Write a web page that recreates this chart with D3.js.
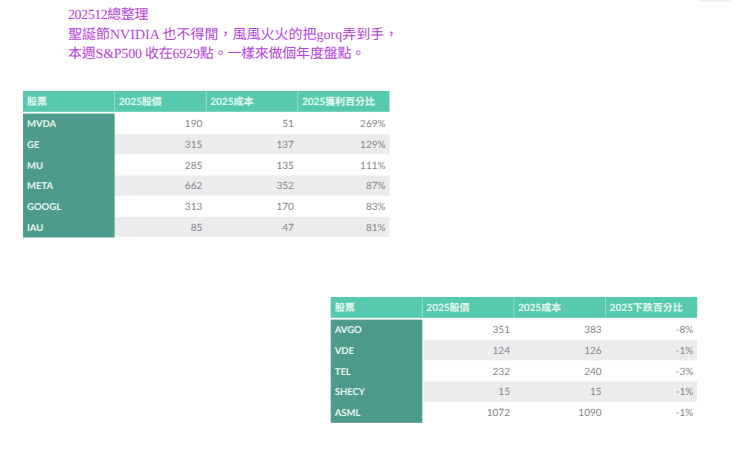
<!DOCTYPE html>
<html>
<head>
<meta charset="utf-8">
<script src="https://cdn.jsdelivr.net/npm/d3@7"></script>
<style>
  html, body { margin: 0; padding: 0; background: #fff; }
  svg { display: block; }
  text { font-family: Lato, "Noto Sans CJK TC", sans-serif; text-rendering: geometricPrecision; }
</style>
</head>
<body>
<script>
var w = 740, h = 459;

var titleLines = [
  "202512總整理",
  "聖誕節NVIDIA 也不得閒，風風火火的把gorq弄到手，",
  "本週S&P500 收在6929點。一樣來做個年度盤點。"
];

var gainHeaders = ["股票", "2025股價", "2025成本", "2025獲利百分比"];
var gainTickers = ["MVDA", "GE", "MU", "META", "GOOGL", "IAU"];
var gainPrices = [190, 315, 285, 662, 313, 85];
var gainCosts = [51, 137, 135, 352, 170, 47];
var gainPercents = [269, 129, 111, 87, 83, 81];

var lossHeaders = ["股票", "2025股價", "2025成本", "2025下跌百分比"];
var lossTickers = ["AVGO", "VDE", "TEL", "SHECY", "ASML"];
var lossPrices = [351, 124, 232, 15, 1072];
var lossCosts = [383, 126, 240, 15, 1090];
var lossPercents = [-8, -1, -3, -1, -1];

var svg = d3.select("body").append("svg")
  .attr("width", w)
  .attr("height", h);

// faint shadow of something cut off at the top edge
svg.append("rect")
  .attr("x", 700)
  .attr("y", 0)
  .attr("width", 30)
  .attr("height", 1.5)
  .attr("fill", "#ededed");

// heading, each line squeezed to the width it has in the picture
var titleSpacing = [-0.45, 0, -0.22];
var titleY = d3.scalePoint().domain(d3.range(titleLines.length)).range([19, 58]);
svg.selectAll("text.title")
  .data(titleLines)
  .enter()
  .append("text")
  .attr("class", "title")
  .attr("x", 68)
  .attr("y", (d, i) => titleY(i))
  .attr("font-size", 14)
  .attr("fill", "#b644d8")
  .attr("letter-spacing", (d, i) => titleSpacing[i])
  .style("font-family", '"Liberation Serif", "Noto Sans CJK TC", serif')
  .text(d => d);

//one table: header band, dark first column, striped rows
function drawTable(x0, y0, stripeGap, headers, tickers, prices, costs, percents) {
  var tableW = 366.5, headerH = 20.8, rowTop = 22.6, rowH = 20.65;
  var g = svg.append("g").attr("transform", "translate(" + x0 + "," + y0 + ")");

  var x = d3.scaleBand().domain(d3.range(headers.length)).range([0, tableW]);
  var y = d3.scaleBand().domain(tickers)
    .range([rowTop, rowTop + rowH * tickers.length]);

  g.selectAll("rect.head")
    .data(headers)
    .enter()
    .append("rect")
    .attr("class", "head")
    .attr("x", (d, i) => x(i))
    .attr("y", 0)
    .attr("width", x.bandwidth())
    .attr("height", headerH)
    .attr("fill", "#57c9ae");

  g.selectAll("line.sep")
    .data(d3.range(1, headers.length))
    .enter()
    .append("line")
    .attr("class", "sep")
    .attr("x1", d => x(d))
    .attr("x2", d => x(d))
    .attr("y1", 0)
    .attr("y2", headerH)
    .attr("stroke", "#8fdcc8")
    .attr("stroke-width", 1);

  g.selectAll("text.head")
    .data(headers)
    .enter()
    .append("text")
    .attr("class", "head")
    .attr("x", (d, i) => x(i) + 4)
    .attr("y", headerH / 2 + 3.5)
    .attr("font-size", 10)
    .attr("font-weight", 700)
    .attr("fill", "#e6f8f3")
    .text(d => d);

  // stripes on every second row
  g.selectAll("rect.stripe")
    .data(tickers.filter((d, i) => i % 2 == 1))
    .enter()
    .append("rect")
    .attr("class", "stripe")
    .attr("x", x(1) + stripeGap)
    .attr("y", d => y(d))
    .attr("width", tableW - x(1) - stripeGap)
    .attr("height", y.bandwidth() - 0.6)
    .attr("fill", "#ececee");

  g.append("rect")
    .attr("x", 0)
    .attr("y", y.range()[0])
    .attr("width", x.bandwidth())
    .attr("height", y.range()[1] - y.range()[0])
    .attr("fill", "#4c9b8c");

  g.selectAll("text.ticker")
    .data(tickers)
    .enter()
    .append("text")
    .attr("class", "ticker")
    .attr("x", 4)
    .attr("y", d => y(d) + y.bandwidth() / 2 + 3.5)
    .attr("font-size", 9.5)
    .attr("font-weight", 700)
    .attr("fill", "#eef7f4")
    .text(d => d);

  var columns = [
    prices.map(String),
    costs.map(String),
    percents.map(d => d + "%")
  ];
  columns.forEach(function (values, c) {
    g.selectAll("text.col" + c)
      .data(values)
      .enter()
      .append("text")
      .attr("class", "col" + c)
      .attr("x", x(c + 1) + x.bandwidth() - 4)
      .attr("y", (d, i) => y(tickers[i]) + y.bandwidth() / 2 + 3.5)
      .attr("text-anchor", "end")
      .attr("font-size", 10)
      .attr("fill", "#858585")
      .text(d => d);
  });
}

drawTable(23, 91, 0, gainHeaders, gainTickers, gainPrices, gainCosts, gainPercents);
drawTable(330.7, 297, 1.5, lossHeaders, lossTickers, lossPrices, lossCosts, lossPercents);
</script>
</body>
</html>
